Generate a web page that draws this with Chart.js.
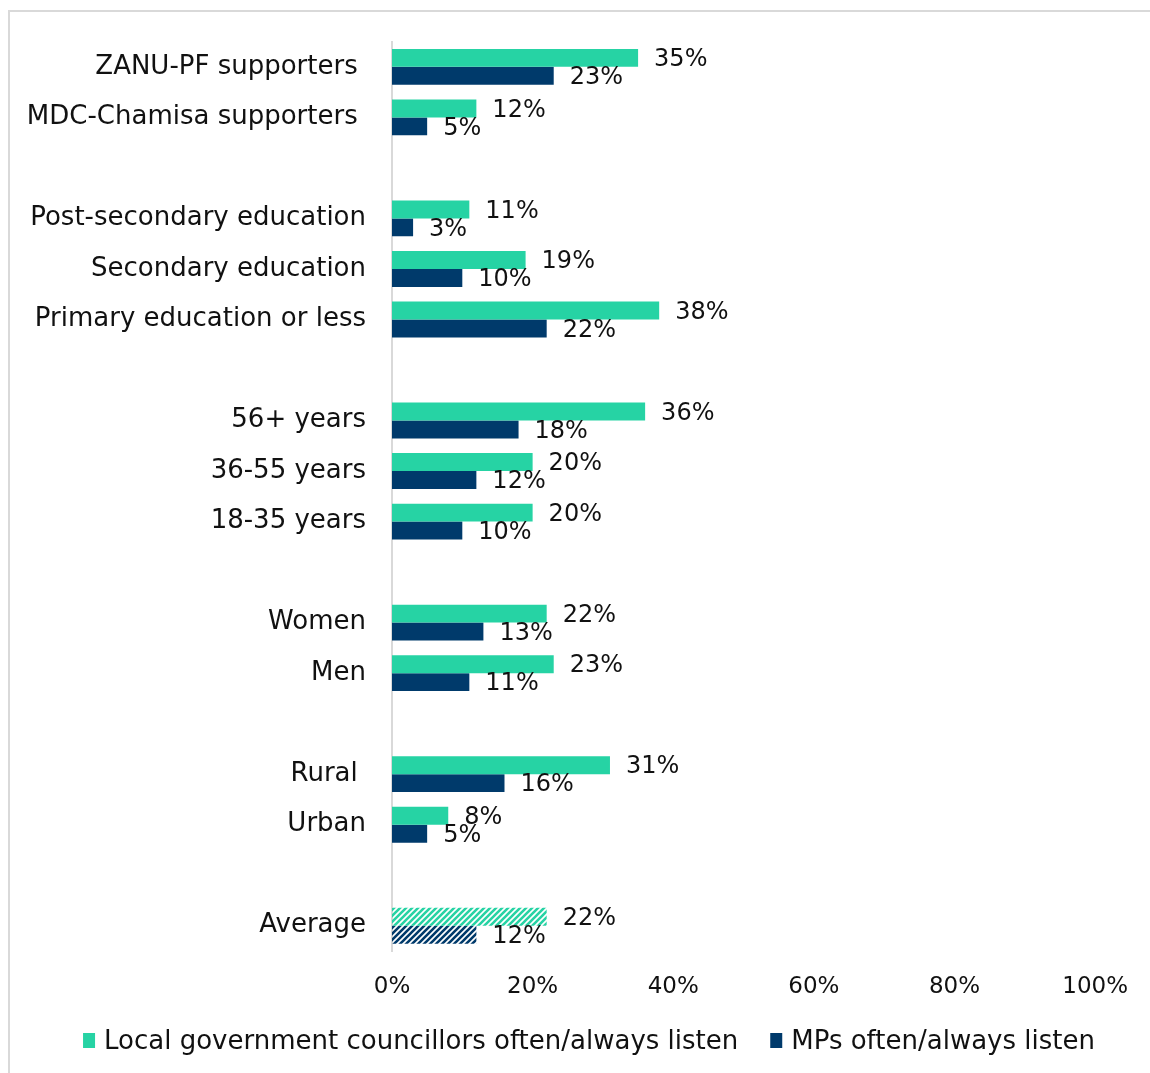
<!DOCTYPE html>
<html>
<head>
<meta charset="utf-8">
<script src="https://cdn.jsdelivr.net/npm/chart.js@4"></script>
<style>
  html, body { margin: 0; padding: 0; background: #fff; overflow: hidden; }
  #wrap { position: relative; width: 1150px; height: 1073px; overflow: hidden; }
  #frame { position: absolute; left: 8px; top: 10px; width: 1300px; height: 1300px;
           border: 2px solid #d9d9d9; box-sizing: border-box; }
  #chart { position: absolute; left: 0; top: 0; }
</style>
</head>
<body>
<div id="wrap">
  <div id="frame"></div>
  <canvas id="chart" width="1150" height="1073"></canvas>
</div>
<script>
// groups, with blank rows between them
const categories = [
  "ZANU-PF supporters ", "MDC-Chamisa supporters ", "",
  "Post-secondary education", "Secondary education", "Primary education or less", "",
  "56+ years", "36-55 years", "18-35 years", "",
  "Women", "Men", "",
  "Rural ", "Urban", "",
  "Average"
];
const councillors = [35, 12, null, 11, 19, 38, null, 36, 20, 20, null, 22, 23, null, 31, 8, null, 22];
const mps = [23, 5, null, 3, 10, 22, null, 18, 12, 10, null, 13, 11, null, 16, 5, null, 12];
const xTicks = [0, 20, 40, 60, 80, 100];

const TEAL = "#26d3a4";
const NAVY = "#003a6b";
const INK = "#111";
const FONT = "'DejaVu Sans', sans-serif";
const AVG = categories.length - 1;

const ctx = document.getElementById("chart").getContext("2d");

// diagonal stripes for the average row
function hatch(color) {
  const s = 6;
  const c = document.createElement("canvas");
  c.width = s; c.height = s;
  const g = c.getContext("2d");
  g.strokeStyle = color;
  g.lineWidth = 2.6;
  g.beginPath();
  g.moveTo(-s, s); g.lineTo(s, -s);
  g.moveTo(0, s); g.lineTo(s, 0);
  g.moveTo(0, 2 * s); g.lineTo(2 * s, 0);
  g.stroke();
  return ctx.createPattern(c, "repeat");
}
const tealHatch = hatch(TEAL);
const navyHatch = hatch(NAVY);

const valueLabels = {
  id: "valueLabels",
  afterDatasetsDraw(chart) {
    const c = chart.ctx;
    c.save();
    c.font = "24px " + FONT;
    c.fillStyle = INK;
    c.textAlign = "left";
    c.textBaseline = "middle";
    chart.data.datasets.forEach((ds, i) => {
      chart.getDatasetMeta(i).data.forEach((bar, j) => {
        const v = ds.data[j];
        if (v == null) return;
        c.fillText(v + "%", bar.x + 16, bar.y + 2);
      });
    });
    c.restore();
  }
};

// one-line legend under the axis, centred a bit right of the canvas middle
const bottomLegend = {
  id: "bottomLegend",
  afterDraw(chart) {
    const c = chart.ctx;
    const sets = chart.data.datasets;
    const box = 12, gapText = 9, gapItem = 32, y = 1041;
    c.save();
    c.font = "26px " + FONT;
    c.textBaseline = "middle";
    c.textAlign = "left";
    const widths = sets.map(ds => box + gapText + c.measureText(ds.label).width);
    const total = widths.reduce((a, b) => a + b, 0) + gapItem * (sets.length - 1);
    let x = 589 - total / 2;
    sets.forEach((ds, i) => {
      c.fillStyle = i === 0 ? TEAL : NAVY;
      c.fillRect(x, y - 8, box, 15);
      c.fillStyle = INK;
      c.fillText(ds.label, x + box + gapText, y + 1);
      x += widths[i] + gapItem;
    });
    c.restore();
  }
};

new Chart(ctx, {
  type: "bar",
  data: {
    labels: categories,
    datasets: [
      {
        label: "Local government councillors often/always listen",
        data: councillors,
        backgroundColor: c => c.dataIndex === AVG ? tealHatch : TEAL
      },
      {
        label: "MPs often/always listen",
        data: mps,
        backgroundColor: c => c.dataIndex === AVG ? navyHatch : NAVY
      }
    ]
  },
  options: {
    responsive: false,
    animation: false,
    indexAxis: "y",
    categoryPercentage: 0.71,
    barPercentage: 1,
    layout: { padding: { top: 40, right: 51, bottom: 73, left: 0 } },
    scales: {
      x: {
        min: 0,
        max: 100,
        afterBuildTicks: s => { s.ticks = xTicks.map(v => ({ value: v })); },
        grid: { display: false, drawTicks: false },
        border: { display: false },
        ticks: {
          padding: 22,
          color: INK,
          font: { family: FONT, size: 23 },
          callback: v => v + "%"
        },
        afterFit: s => { s.height = 49; }
      },
      y: {
        grid: { display: false, drawTicks: false },
        border: { display: true, color: "#d9d9d9", width: 2 },
        ticks: {
          autoSkip: false,
          padding: 26,
          color: INK,
          font: { family: FONT, size: 26 }
        },
        afterFit: s => { s.width = 392; }
      }
    },
    plugins: {
      legend: { display: false },
      tooltip: { enabled: false }
    }
  },
  plugins: [valueLabels, bottomLegend]
});
</script>
</body>
</html>
